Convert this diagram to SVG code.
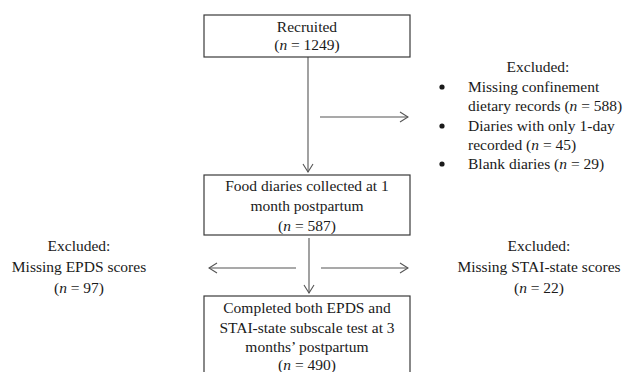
<svg xmlns="http://www.w3.org/2000/svg" width="623" height="372" viewBox="0 0 623 372">
<defs>
<style>
text{font-family:"Liberation Serif","Times New Roman",serif;font-size:15.5px;fill:#1a1a1a}
.c{text-anchor:middle}
.i{font-style:italic}
.box{fill:#fff;stroke:#3a3a3a;stroke-width:1.2}
.ar{fill:none;stroke:#555;stroke-width:1.1}
</style>
<marker id="ah" viewBox="0 0 10 12" refX="9" refY="6" markerWidth="10" markerHeight="12" markerUnits="userSpaceOnUse" orient="auto">
<path d="M1,1 L9,6 L1,11" fill="none" stroke="#555" stroke-width="1.1"/>
</marker>
</defs>
<rect width="623" height="372" fill="#fff"/>
<g id="connectors">
<line class="ar" x1="308" y1="57" x2="308" y2="172" marker-end="url(#ah)"/>
<line class="ar" x1="320" y1="117" x2="408" y2="117" marker-end="url(#ah)"/>
<line class="ar" x1="309" y1="238" x2="309" y2="293" marker-end="url(#ah)"/>
<line class="ar" x1="296" y1="268" x2="209" y2="268" marker-end="url(#ah)"/>
<line class="ar" x1="321" y1="268" x2="408" y2="268" marker-end="url(#ah)"/>
</g>
<g id="recruited">
<rect class="box" x="204" y="15" width="206" height="42"/>
<text class="c" x="307" y="32">Recruited</text>
<text class="c" x="307" y="50">(<tspan class="i">n</tspan> = 1249)</text>
</g>
<g id="excluded-top">
<text class="c" x="538" y="72">Excluded:</text>
<circle cx="442" cy="87" r="2.6" fill="#1a1a1a"/>
<text x="468" y="92">Missing confinement</text>
<text x="468" y="111">dietary records (<tspan class="i">n</tspan> = 588)</text>
<circle cx="442" cy="126" r="2.6" fill="#1a1a1a"/>
<text x="468" y="131">Diaries with only 1-day</text>
<text x="468" y="150">recorded (<tspan class="i">n</tspan> = 45)</text>
<circle cx="442" cy="164" r="2.6" fill="#1a1a1a"/>
<text x="468" y="169">Blank diaries (<tspan class="i">n</tspan> = 29)</text>
</g>
<g id="food-diaries">
<rect class="box" x="204" y="175" width="206" height="60"/>
<text class="c" x="307" y="191">Food diaries collected at 1</text>
<text class="c" x="307" y="211">month postpartum</text>
<text class="c" x="307" y="231">(<tspan class="i">n</tspan> = 587)</text>
</g>
<g id="excluded-epds">
<text class="c" x="79" y="251">Excluded:</text>
<text class="c" x="79" y="272">Missing EPDS scores</text>
<text class="c" x="79" y="293">(<tspan class="i">n</tspan> = 97)</text>
</g>
<g id="excluded-stai">
<text class="c" x="539" y="251">Excluded:</text>
<text class="c" x="539" y="272">Missing STAI-state scores</text>
<text class="c" x="539" y="293">(<tspan class="i">n</tspan> = 22)</text>
</g>
<g id="completed">
<rect class="box" x="204" y="296" width="206" height="84"/>
<text class="c" x="307" y="313">Completed both EPDS and</text>
<text class="c" x="307" y="333">STAI-state subscale test at 3</text>
<text class="c" x="307" y="352">months’ postpartum</text>
<text class="c" x="307" y="370">(<tspan class="i">n</tspan> = 490)</text>
</g>
</svg>
